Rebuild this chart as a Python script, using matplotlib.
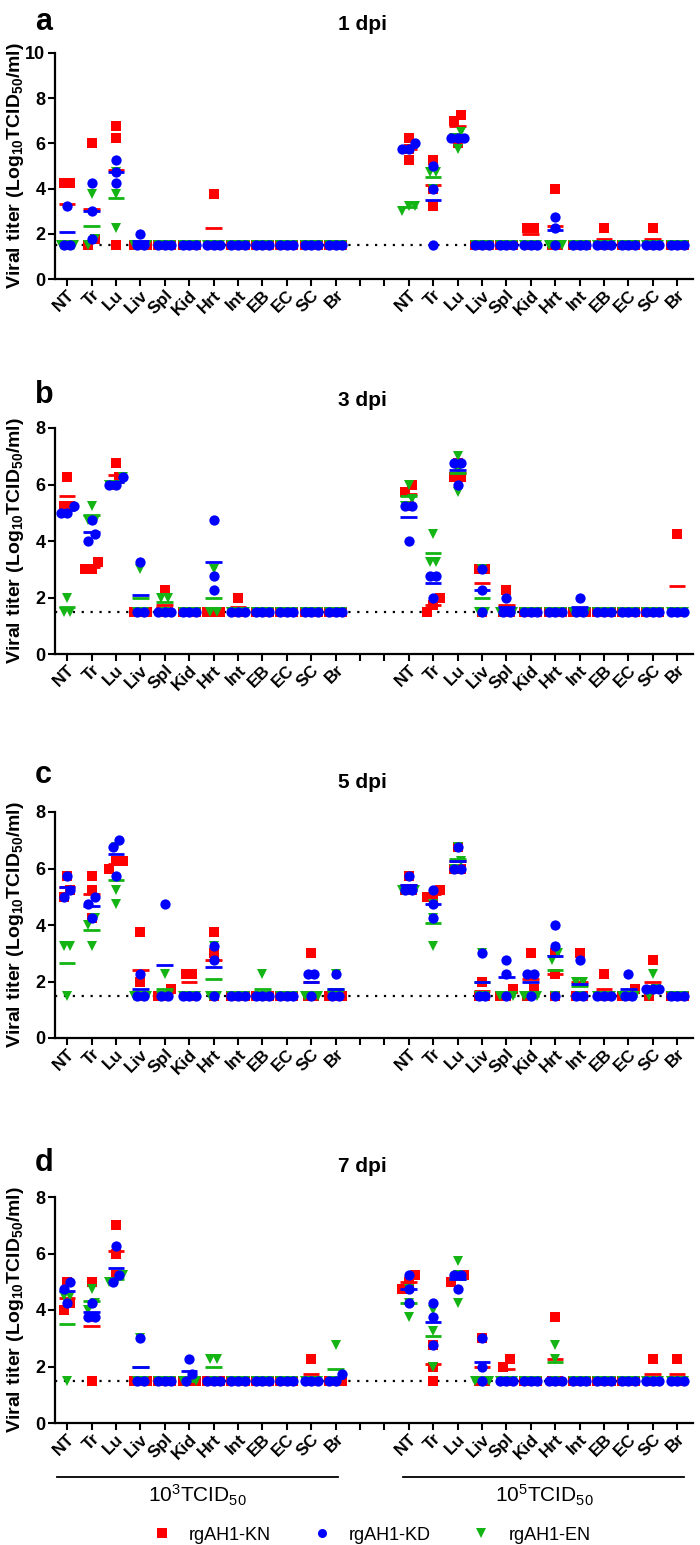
import numpy as np
import matplotlib
matplotlib.use("Agg")
import matplotlib.pyplot as plt
from matplotlib.lines import Line2D

plt.rcParams['font.family'] = ['Liberation Sans', 'DejaVu Sans']
plt.rcParams['mathtext.fontset'] = 'custom'
plt.rcParams['mathtext.rm'] = 'Liberation Sans'
plt.rcParams['mathtext.bf'] = 'Liberation Sans:bold'
plt.rcParams['mathtext.default'] = 'regular'

organs = ['NT', 'Tr', 'Lu', 'Liv', 'Spl', 'Kid', 'Hrt', 'Int', 'EB', 'EC', 'SC', 'Br']
days = ['1 dpi', '3 dpi', '5 dpi', '7 dpi']
letters = ['a', 'b', 'c', 'd']
L3 = [1.5, 1.5, 1.5]  # detection limit, 3 mice

# each list: 12 organs for 10^3 TCID50, then 12 organs for 10^5 TCID50; 3 mice per organ
kn_1dpi = [[4.25, 4.25, 1.5], [6.0, 1.75, 1.5], [6.25, 6.75, 1.5], L3, L3, L3,
           [3.75, 1.5, 1.5], L3, L3, L3, L3, L3,
           [6.25, 5.75, 5.25], [5.25, 4.0, 3.25], [7.25, 7.0, 6.0], L3, L3, [2.25, 2.25, 1.5],
           [4.0, 1.5, 1.5], L3, [2.25, 1.5, 1.5], L3, [2.25, 1.5, 1.5], L3]
kd_1dpi = [[3.25, 1.5, 1.5], [3.0, 1.75, 4.25], [5.25, 4.75, 4.25], [2.0, 1.5, 1.5], L3, L3,
           L3, L3, L3, L3, L3, L3,
           [6.0, 5.75, 5.75], [5.0, 4.0, 1.5], [6.25, 6.25, 6.25], L3, L3, L3,
           [2.75, 2.25, 1.5], L3, L3, L3, L3, L3]
en_1dpi = [L3, [3.75, 1.75, 1.5], [3.75, 2.25, 4.75], L3, L3, L3,
           L3, L3, L3, L3, L3, L3,
           [3.25, 3.0, 3.25], [4.75, 4.75, 4.0], [5.75, 6.25, 6.5], L3, L3, L3,
           L3, L3, L3, L3, L3, L3]

kn_3dpi = [[6.25, 5.25, 5.25], [3.25, 3.0, 3.0], [6.75, 6.25, 6.0], L3, [2.25, 1.5, 1.5], L3,
           L3, [2.0, 1.5, 1.5], L3, L3, L3, L3,
           [6.0, 5.75, 5.25], [2.0, 1.75, 1.5], [6.75, 6.25, 6.25], [3.0, 3.0, 1.5], [2.25, 1.5, 1.5], L3,
           L3, L3, L3, L3, L3, [4.25, 1.5, 1.5]]
kd_3dpi = [[5.25, 5.0, 5.0], [4.25, 4.75, 4.0], [6.25, 6.0, 6.0], [3.25, 1.5, 1.5], L3, L3,
           [4.75, 2.75, 2.25], L3, L3, L3, L3, L3,
           [5.25, 5.25, 4.0], [2.75, 2.75, 2.0], [6.75, 6.75, 6.0], [3.0, 2.25, 1.5], [2.0, 1.5, 1.5], L3,
           L3, [2.0, 1.5, 1.5], L3, L3, L3, L3]
en_3dpi = [[2.0, 1.5, 1.5], [5.25, 4.75, 4.75], [6.0, 6.0, 6.25], [3.0, 1.5, 1.5], [2.0, 2.0, 1.5], L3,
           [3.0, 1.5, 1.5], L3, L3, L3, L3, L3,
           [6.0, 5.5, 5.25], [4.25, 3.25, 3.25], [7.0, 5.75, 6.5], [3.0, 1.5, 1.5], L3, L3,
           L3, L3, L3, L3, L3, L3]

kn_5dpi = [[5.25, 5.75, 5.0], [5.75, 5.25, 4.25], [6.25, 6.25, 6.0], [3.75, 2.0, 1.5], [1.75, 1.5, 1.5],
           [2.25, 2.25, 1.5], [3.75, 3.0, 1.5], L3, L3, L3, [3.0, 1.5, 1.5], L3,
           [5.75, 5.25, 5.25], [5.25, 5.0, 5.0], [6.75, 6.0, 6.0], [2.0, 1.5, 1.5], [1.75, 1.5, 1.5],
           [3.0, 1.75, 1.5], [3.0, 2.25, 1.5], [3.0, 1.5, 1.5], [2.25, 1.5, 1.5], [1.75, 1.5, 1.5],
           [2.75, 1.75, 1.5], L3]
kd_5dpi = [[5.75, 5.25, 5.0], [5.0, 4.75, 4.25], [7.0, 6.75, 5.75], [2.25, 1.5, 1.5], [4.75, 1.5, 1.5],
           L3, [3.25, 2.75, 1.5], L3, L3, L3, [2.25, 2.25, 1.5], [2.25, 1.5, 1.5],
           [5.75, 5.25, 5.25], [5.25, 4.75, 4.25], [6.75, 6.0, 6.0], [3.0, 1.5, 1.5], [2.75, 2.25, 1.5],
           [2.25, 2.25, 1.5], [4.0, 3.25, 1.5], [2.75, 1.5, 1.5], L3, [2.25, 1.5, 1.5],
           [1.75, 1.75, 1.75], L3]
en_5dpi = [[3.25, 3.25, 1.5], [4.25, 4.0, 3.25], [5.25, 4.75, 6.75], L3, [2.25, 1.5, 1.5], L3,
           [3.25, 1.5, 1.5], L3, [2.25, 1.5, 1.5], L3, L3, [2.25, 1.5, 1.5],
           [5.25, 5.25, 5.25], [4.25, 3.25, 4.75], [6.75, 6.0, 6.25], [3.0, 1.5, 1.5], L3, L3,
           [3.0, 2.75, 1.5], [2.0, 2.0, 1.5], L3, L3, [2.25, 1.75, 1.5], L3]

kn_7dpi = [[5.0, 4.25, 4.0], [5.0, 3.75, 1.5], [7.0, 6.0, 5.25], L3, L3, L3,
           L3, L3, L3, L3, [2.25, 1.5, 1.5], L3,
           [5.25, 5.0, 4.75], [2.75, 2.0, 1.5], [5.25, 5.25, 5.0], [3.0, 1.5, 1.5], [2.25, 2.0, 1.5], L3,
           [3.75, 1.5, 1.5], L3, L3, L3, [2.25, 1.5, 1.5], [2.25, 1.5, 1.5]]
kd_7dpi = [[5.0, 4.75, 4.25], [4.25, 3.75, 3.75], [6.25, 5.25, 5.0], [3.0, 1.5, 1.5], L3, [2.25, 1.75, 1.5],
           L3, L3, L3, L3, L3, [1.75, 1.5, 1.5],
           [5.25, 4.75, 4.25], [4.25, 3.75, 2.75], [5.25, 5.25, 4.75], [3.0, 2.0, 1.5], L3, L3,
           L3, L3, L3, L3, L3, L3]
en_7dpi = [[4.5, 4.5, 1.5], [4.25, 4.0, 4.75], [5.0, 5.0, 5.25], [3.0, 1.5, 1.5], L3, L3,
           [2.25, 2.25, 1.5], L3, L3, L3, L3, [2.75, 1.5, 1.5],
           [4.25, 3.75, 4.75], [4.0, 3.25, 2.0], [5.75, 4.25, 5.25], L3, L3, L3,
           [2.75, 2.25, 1.5], L3, L3, L3, L3, L3]

kn_all = [kn_1dpi, kn_3dpi, kn_5dpi, kn_7dpi]
kd_all = [kd_1dpi, kd_3dpi, kd_5dpi, kd_7dpi]
en_all = [en_1dpi, en_3dpi, en_5dpi, en_7dpi]
ymax = [10, 8, 8, 8]

positions = list(range(12)) + list(range(14, 26))
series = [
    ('rgAH1-KN', '#FF0000', 's', 6.8, kn_all, 2),
    ('rgAH1-EN', '#13B413', 'v', 7.2, en_all, 3),
    ('rgAH1-KD', '#0000FF', 'o', 7.4, kd_all, 4),
]


def spread(vals, step=0.27, tol=0.3):
    # push overlapping points sideways, like a column scatter
    vals = np.asarray(vals, dtype=float)
    order = np.argsort(vals)
    offs = np.zeros(len(vals))
    groups, cur = [], [order[0]]
    for i in order[1:]:
        if vals[i] - vals[cur[-1]] < tol:
            cur.append(i)
        else:
            groups.append(cur)
            cur = [i]
    groups.append(cur)
    for g in groups:
        n = len(g)
        for k, i in enumerate(g):
            offs[i] = (k - (n - 1) / 2) * step
    return offs


fig = plt.figure(figsize=(7, 15.45), dpi=100)
W, H = 700.0, 1545.0
tops = [53, 428, 812, 1197]
ax_h = 226
ax_left, ax_right = 55, 693
letter_y = [22, 395, 775, 1163]
title_y = [25, 400, 783, 1167]

for p in range(4):
    ax = fig.add_axes([ax_left / W, 1 - (tops[p] + ax_h) / H, (ax_right - ax_left) / W, ax_h / H])
    for name, col, mk, ms, data_all, z in series:
        data = data_all[p]
        for x, vals in zip(positions, data):
            offs = spread(vals)
            ax.plot(x + offs, vals, linestyle='none', marker=mk, color=col,
                    markersize=ms, markeredgewidth=0, zorder=z)
            ax.hlines(np.mean(vals), x - 0.34, x + 0.34, color=col, lw=2, zorder=z + 0.5)
    ax.axhline(1.5, color='black', linestyle=(0, (1, 3)), lw=1.6, zorder=1)

    ax.set_xlim(-0.5, 25.65)
    ax.set_ylim(0, ymax[p])
    ax.set_yticks(np.arange(0, ymax[p] + 1, 2))
    ax.set_xticks(range(26))
    ax.set_xticklabels(organs + ['', ''] + organs, rotation=45, ha='right',
                       rotation_mode='anchor', fontsize=12.5, fontweight='bold')
    for lab in ax.get_yticklabels():
        lab.set_fontweight('bold')
    ax.tick_params(axis='y', labelsize=13, width=1.5, length=5, direction='out', pad=2)
    ax.tick_params(axis='x', width=1.5, length=5, direction='out', pad=1)
    for s in ['top', 'right']:
        ax.spines[s].set_visible(False)
    for s in ['left', 'bottom']:
        ax.spines[s].set_linewidth(1.6)
    ax.set_ylabel(r'$\mathbf{Viral\ titer\ (Log_{10}TCID_{50}/ml)}$', fontsize=14)
    ax.yaxis.set_label_coords(-(55 - 26) / 638.0, 0.5)

    fig.text(35 / W, 1 - letter_y[p] / H, letters[p], fontsize=22, fontweight='bold',
             ha='left', va='center')
    fig.text(362 / W, 1 - title_y[p] / H, days[p], fontsize=15, fontweight='bold',
             ha='center', va='center')

    if p == 3:
        tr = ax.get_xaxis_transform()
        for x0, x1 in [(-0.42, 11.1), (13.78, 25.3)]:
            ax.plot([x0, x1], [-0.239, -0.239], color='black', lw=1.3, transform=tr, clip_on=False)
        ax.text(5.35, -0.32, r'10$^{3}$TCID$_{50}$', transform=tr, ha='center', va='center', fontsize=15)
        ax.text(19.55, -0.32, r'10$^{5}$TCID$_{50}$', transform=tr, ha='center', va='center', fontsize=15)

handles = []
for name in ['rgAH1-KN', 'rgAH1-KD', 'rgAH1-EN']:
    s = [t for t in series if t[0] == name][0]
    handles.append(Line2D([], [], linestyle='none', marker=s[2], color=s[1],
                          markersize=6.5, markeredgewidth=0, label=name))
fig.legend(handles=handles, loc='center', bbox_to_anchor=(0.531, 1 - 1535 / H), ncol=3,
           frameon=False, fontsize=13, handlelength=1.0, handletextpad=1.0,
           columnspacing=2.3, borderpad=0, borderaxespad=0)

fig.savefig('out.png', dpi=100)
